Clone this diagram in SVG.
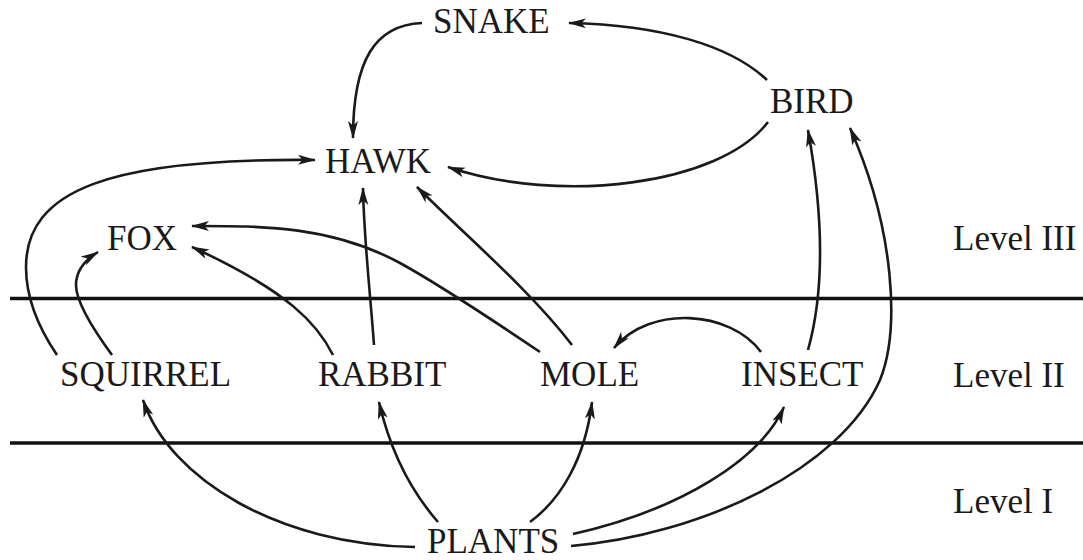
<svg xmlns="http://www.w3.org/2000/svg" width="1083" height="560" viewBox="0 0 1083 560">
<style>
text{font-family:"Liberation Serif","Times New Roman",serif;font-size:35px;fill:#1a1a1a}
.c{fill:none;stroke:#1a1a1a;stroke-width:2.6}
.lv{stroke:#111;stroke-width:3.4}
</style>
<defs>
<marker id="ah" viewBox="0 0 18 11" refX="17" refY="5.5" markerWidth="18" markerHeight="11" markerUnits="userSpaceOnUse" orient="auto">
<path d="M0,0.5 L18,5.5 L0,10.5 L4.5,5.5 z" fill="#1a1a1a"/>
</marker>
</defs>
<rect width="1083" height="560" fill="#fff"/>
<g id="levels">
<line class="lv" x1="10" y1="298.5" x2="1083" y2="298.5"/>
<line class="lv" x1="10" y1="443" x2="1083" y2="443"/>
<text x="953" y="250">Level III</text>
<text x="953" y="387">Level II</text>
<text x="953" y="513">Level I</text>
</g>
<g id="connectors">
<path class="c" marker-end="url(#ah)" d="M767,80 C730,45 660,25 569,23"/>
<path class="c" marker-end="url(#ah)" d="M422,23 C375,25 353,60 353,138"/>
<path class="c" marker-end="url(#ah)" d="M768,122 C720,185 560,205 448,167"/>
<path class="c" marker-end="url(#ah)" d="M57,355 C40,330 26,300 26,267 C26,190 110,158 315,160"/>
<path class="c" marker-end="url(#ah)" d="M112,355 C90,325 76,300 76,285 C76,270 85,260 98,252"/>
<path class="c" marker-end="url(#ah)" d="M333,355 C318,325 290,292 192,247"/>
<path class="c" marker-end="url(#ah)" d="M374,345 C370,290 364,240 363,188"/>
<path class="c" marker-end="url(#ah)" d="M540,352 C500,325 440,285 400,263 C330,225 260,226 192,226"/>
<path class="c" marker-end="url(#ah)" d="M572,345 C530,290 465,235 417,187"/>
<path class="c" marker-end="url(#ah)" d="M808,350 C822,300 826,230 808,130"/>
<path class="c" marker-end="url(#ah)" d="M571,546 C700,535 840,470 880,380 C900,330 895,230 850,128"/>
<path class="c" marker-end="url(#ah)" d="M573,534 C680,510 760,460 784,407"/>
<path class="c" marker-end="url(#ah)" d="M530,522 C560,500 585,460 592,402"/>
<path class="c" marker-end="url(#ah)" d="M438,522 C410,490 390,450 379,402"/>
<path class="c" marker-end="url(#ah)" d="M415,547 C280,545 170,480 143,400"/>
<path class="c" marker-end="url(#ah)" d="M761,352 C730,310 650,305 614,348"/>
</g>
<g id="snake"><text x="433" y="33">SNAKE</text></g>
<g id="bird"><text x="770" y="113">BIRD</text></g>
<g id="hawk"><text x="325" y="173">HAWK</text></g>
<g id="fox"><text x="107" y="250">FOX</text></g>
<g id="squirrel"><text x="60" y="386">SQUIRREL</text></g>
<g id="rabbit"><text x="318" y="386">RABBIT</text></g>
<g id="mole"><text x="540" y="386">MOLE</text></g>
<g id="insect"><text x="741" y="386">INSECT</text></g>
<g id="plants"><text x="427" y="553">PLANTS</text></g>
</svg>
